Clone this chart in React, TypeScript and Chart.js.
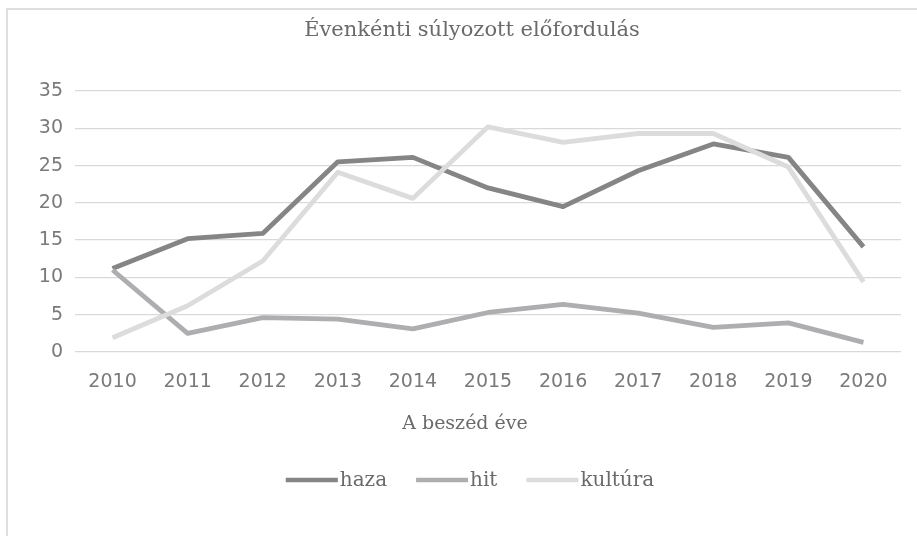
import React, { useEffect, useRef } from "react";
import { Chart, registerables } from "chart.js";

Chart.register(...registerables);

const chartTitle = "Évenkénti súlyozott előfordulás";
const xAxisTitle = "A beszéd éve";
const years = ["2010", "2011", "2012", "2013", "2014", "2015", "2016", "2017", "2018", "2019", "2020"];
const seriesNames = ["haza", "hit", "kultúra"];
const seriesColors = ["#858585", "#aeaeb1", "#dcdcdc"];
const hazaValues = [11.2, 15.2, 15.9, 25.5, 26.1, 22.0, 19.5, 24.3, 27.9, 26.1, 14.1];
const hitValues = [11.0, 2.5, 4.6, 4.4, 3.1, 5.3, 6.4, 5.2, 3.3, 3.9, 1.3];
const kulturaValues = [1.9, 6.2, 12.2, 24.1, 20.6, 30.2, 28.1, 29.3, 29.3, 24.8, 9.4];
const yTicks = [0, 5, 10, 15, 20, 25, 30, 35];

const SERIF = "'DejaVu Serif', 'Liberation Serif', serif";
const SANS = "'DejaVu Sans', sans-serif";

const textPlugin = {
  id: "textPlugin",
  afterDraw(chart: any) {
    const ctx = chart.ctx;
    const centerX = 470;
    ctx.save();
    ctx.fillStyle = "#6a6a6a";
    ctx.textBaseline = "middle";
    ctx.textAlign = "center";
    ctx.font = `21px ${SERIF}`;
    ctx.fillText(chartTitle, 472, 31);
    ctx.font = `19px ${SERIF}`;
    ctx.fillText(xAxisTitle, 465, 424);

    // legend
    ctx.font = `20px ${SERIF}`;
    const lineLen = 52;
    const gap = 2;
    const itemGap = 29;
    const items = chart.data.datasets.map((ds: any) => ({
      label: ds.label,
      color: ds.borderColor,
      w: ctx.measureText(ds.label).width,
    }));
    let total = 0;
    items.forEach((it: any, i: number) => {
      total += lineLen + gap + it.w + (i < items.length - 1 ? itemGap : 0);
    });
    let x = centerX - total / 2;
    const y = 480;
    ctx.textAlign = "left";
    items.forEach((it: any) => {
      ctx.strokeStyle = it.color;
      ctx.lineWidth = 4.5;
      ctx.beginPath();
      ctx.moveTo(x, y);
      ctx.lineTo(x + lineLen, y);
      ctx.stroke();
      x += lineLen + gap;
      ctx.fillText(it.label, x, y + 1);
      x += it.w + itemGap;
    });
    ctx.restore();
  },
};

export default function App() {
  const canvasRef = useRef<HTMLCanvasElement | null>(null);

  useEffect(() => {
    const canvas = canvasRef.current;
    if (!canvas) return;
    const values = [hazaValues, hitValues, kulturaValues];
    const chart = new Chart(canvas, {
      type: "line",
      data: {
        labels: years,
        datasets: seriesNames.map((name, i) => ({
          label: name,
          data: values[i],
          borderColor: seriesColors[i],
          backgroundColor: seriesColors[i],
          borderWidth: 4.8,
          pointRadius: 0,
          tension: 0,
          fill: false,
          order: 2 - i,
          borderCapStyle: "butt",
          borderJoinStyle: "round",
        })),
      },
      options: {
        responsive: false,
        animation: false,
        devicePixelRatio: 1,
        layout: { padding: { top: 91, left: 0, right: 16, bottom: 0 } },
        plugins: {
          legend: { display: false },
          title: { display: false },
          tooltip: { enabled: false },
        },
        scales: {
          x: {
            offset: true,
            grid: { display: false, drawTicks: false },
            border: { display: false },
            ticks: {
              color: "#7a7a7a",
              font: { family: SANS, size: 19 },
              padding: 19,
              maxRotation: 0,
              autoSkip: false,
            },
            afterFit: (scale: any) => {
              scale.height = 184;
            },
          },
          y: {
            min: 0,
            max: 35,
            afterBuildTicks: (scale: any) => {
              scale.ticks = yTicks.map((v) => ({ value: v }));
            },
            grid: { color: "#d9d9d9", lineWidth: 1.3, drawTicks: false },
            border: { display: false },
            ticks: {
              color: "#7a7a7a",
              font: { family: SANS, size: 19 },
              padding: 12,
            },
            afterFit: (scale: any) => {
              scale.width = 75;
            },
          },
        },
      },
      plugins: [textPlugin],
    } as any);
    return () => chart.destroy();
  }, []);

  return (
    <div
      style={{
        position: "fixed",
        left: 0,
        top: 0,
        width: 917,
        height: 536,
        overflow: "hidden",
        background: "#ffffff",
      }}
    >
      <div
        style={{
          position: "absolute",
          left: 6,
          top: 8,
          width: 1200,
          height: 800,
          border: "2px solid #dedede",
          boxSizing: "border-box",
        }}
      />
      <canvas
        ref={canvasRef}
        width={917}
        height={536}
        style={{ position: "absolute", left: 0, top: 0, width: 917, height: 536 }}
      />
    </div>
  );
}
